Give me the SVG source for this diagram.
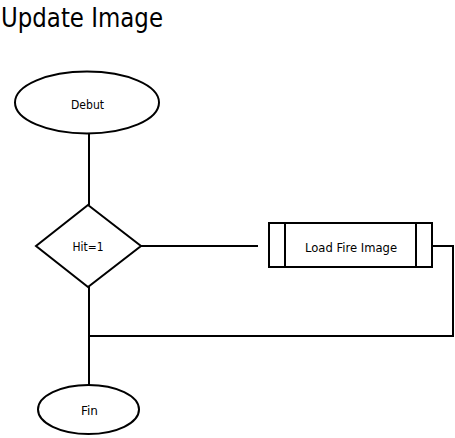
<svg xmlns="http://www.w3.org/2000/svg" width="455" height="438" viewBox="0 0 455 438">
<style>
.s{fill:none;stroke:#000;stroke-width:2}
.n{fill:#fff;stroke:#000;stroke-width:2}
.t{font-family:"DejaVu Sans",Verdana,sans-serif;font-size:12.5px;fill:#000;text-anchor:middle}
.h{font-family:"DejaVu Sans",Verdana,sans-serif;font-size:26px;fill:#000}
</style>
<rect width="455" height="438" fill="#fff"/>
<text class="h" x="1" y="27" textLength="162" lengthAdjust="spacingAndGlyphs">Update Image</text>
<g id="connectors">
<path class="s" d="M89 133V205"/>
<path class="s" d="M141 246H258"/>
<path class="s" d="M432 246H453V336H89"/>
<path class="s" d="M89 286V385"/>
</g>
<g id="debut">
<ellipse class="n" cx="87" cy="102.5" rx="72" ry="31"/>
<text class="t" x="87.5" y="109" textLength="33" lengthAdjust="spacingAndGlyphs">Debut</text>
</g>
<g id="hit">
<polygon class="n" points="88,205 141,246 88,287 36,246"/>
<text class="t" x="88" y="251" textLength="31" lengthAdjust="spacingAndGlyphs">Hit=1</text>
</g>
<g id="load">
<rect class="n" x="269" y="223" width="163" height="44"/>
<path class="s" d="M285 223V267M416 223V267"/>
<text class="t" x="351" y="251.5" textLength="92" lengthAdjust="spacingAndGlyphs">Load Fire Image</text>
</g>
<g id="fin">
<ellipse class="n" cx="88.5" cy="409.5" rx="50.5" ry="24.5"/>
<text class="t" x="89.5" y="415" textLength="17" lengthAdjust="spacingAndGlyphs">Fin</text>
</g>
</svg>
